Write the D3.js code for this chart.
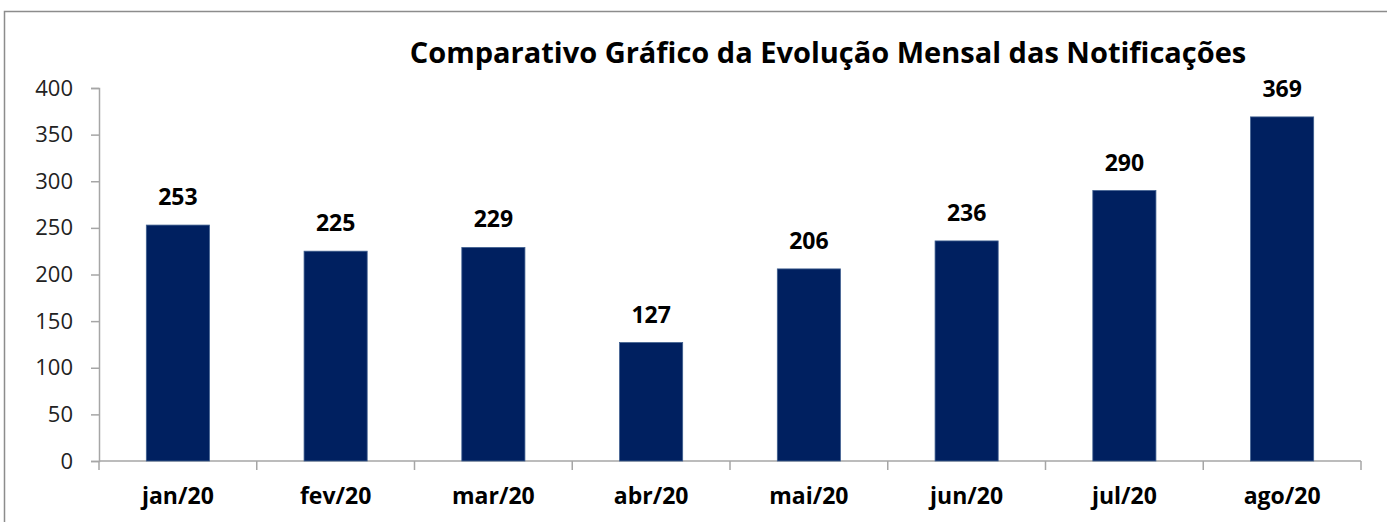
<!DOCTYPE html>
<html>
<head>
<meta charset="utf-8">
<script src="https://cdn.jsdelivr.net/npm/d3@7"></script>
<style>
  body { margin: 0; background: #fff; }
  svg { display: block; font-family: "Open Sans", "DejaVu Sans", sans-serif; }
</style>
</head>
<body>
<div id="chart"></div>
<script>
// monthly notifications
const months = ['jan/20', 'fev/20', 'mar/20', 'abr/20', 'mai/20', 'jun/20', 'jul/20', 'ago/20'];
const notifications = [253, 225, 229, 127, 206, 236, 290, 369];
const yTicks = [0, 50, 100, 150, 200, 250, 300, 350, 400];
const chartTitle = 'Comparativo Gráfico da Evolução Mensal das Notificações';

const config = {
  width: 1387,
  height: 522,
  padding: { left: 99, right: 26, top: 88, bottom: 61 }
};

const svg = d3.select('#chart')
  .append('svg')
  .attr('width', config.width)
  .attr('height', config.height);

// outer frame
svg.append('rect')
  .attr('x', 4.5)
  .attr('y', 11.5)
  .attr('width', config.width + 10)
  .attr('height', config.height + 10)
  .attr('fill', 'none')
  .attr('stroke', '#8c8c8c')
  .attr('stroke-width', 1.5);

const x = d3.scaleBand()
  .domain(months)
  .range([config.padding.left, config.width - config.padding.right])
  .paddingInner(0.6)
  .paddingOuter(0.3);

const y = d3.scaleLinear()
  .domain([0, 400])
  .range([config.height - config.padding.bottom, config.padding.top]);

// title
svg.append('text')
  .attr('x', 828)
  .attr('y', 63)
  .attr('text-anchor', 'middle')
  .style('font-size', '29px')
  .style('font-weight', 'bold')
  .style('fill', '#000')
  .text(chartTitle);

// y axis
const yAxis = svg.append('g')
  .attr('transform', `translate(${config.padding.left},0)`)
  .call(d3.axisLeft(y).tickValues(yTicks).tickSize(8).tickPadding(18));
yAxis.select('.domain').attr('stroke', '#a6a6a6').attr('stroke-width', 1.5);
yAxis.selectAll('.tick line').attr('stroke', '#a6a6a6').attr('stroke-width', 1.5);
yAxis.selectAll('.tick text')
  .style('font-size', '22px')
  .style('fill', '#222')
  .style('font-family', '"Open Sans", sans-serif');

// x axis: ticks between categories
const step = x.step();
const x0 = config.padding.left;
svg.append('line')
  .attr('x1', x0)
  .attr('x2', config.width - config.padding.right)
  .attr('y1', y(0))
  .attr('y2', y(0))
  .attr('stroke', '#a6a6a6')
  .attr('stroke-width', 1.5);
svg.selectAll('.xtick')
  .data(d3.range(months.length + 1))
  .enter()
  .append('line')
  .attr('class', 'xtick')
  .attr('x1', i => x0 + i * step)
  .attr('x2', i => x0 + i * step)
  .attr('y1', y(0))
  .attr('y2', y(0) + 9)
  .attr('stroke', '#a6a6a6')
  .attr('stroke-width', 1.5);

svg.selectAll('.xlabel')
  .data(months)
  .enter()
  .append('text')
  .attr('class', 'xlabel')
  .attr('x', d => x(d) + x.bandwidth() / 2)
  .attr('y', y(0) + 43)
  .attr('text-anchor', 'middle')
  .style('font-size', '23px')
  .style('font-weight', 'bold')
  .style('fill', '#000')
  .text(d => d);

// bars
const data = months.map((m, i) => ({ month: m, value: notifications[i] }));
svg.selectAll('.bar')
  .data(data)
  .enter()
  .append('rect')
  .attr('class', 'bar')
  .attr('x', d => x(d.month))
  .attr('y', d => y(d.value))
  .attr('width', x.bandwidth())
  .attr('height', d => y(0) - y(d.value))
  .attr('fill', '#002060')
  .attr('stroke', '#3f5f8f')
  .attr('stroke-width', 0.8);

// value labels
svg.selectAll('.value')
  .data(data)
  .enter()
  .append('text')
  .attr('class', 'value')
  .attr('x', d => x(d.month) + x.bandwidth() / 2)
  .attr('y', d => y(d.value) - 20)
  .attr('text-anchor', 'middle')
  .style('font-size', '23px')
  .style('font-weight', 'bold')
  .style('fill', '#000')
  .text(d => d.value);
</script>
</body>
</html>
